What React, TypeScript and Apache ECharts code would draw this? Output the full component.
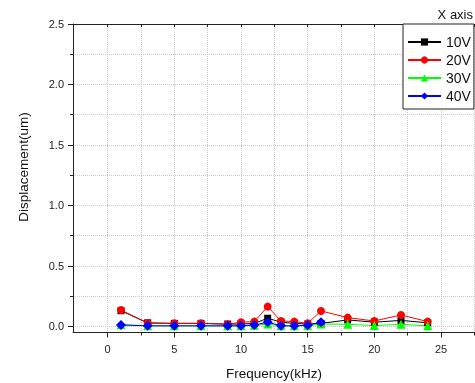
import React, { useEffect, useRef } from "react";
import * as echarts from "echarts";

const freq10 = [1, 3, 5, 7, 9, 10, 11, 12, 13, 14, 15, 16, 18, 20, 22, 24];
const v10 = [0.13, 0.03, 0.025, 0.025, 0.02, 0.02, 0.025, 0.068, 0.035, 0.025, 0.02, 0.025, 0.054, 0.035, 0.05, 0.03];
const freq20 = [1, 3, 5, 7, 9, 10, 11, 12, 13, 14, 15, 16, 18, 20, 22, 24];
const v20 = [0.136, 0.026, 0.026, 0.026, 0.018, 0.035, 0.04, 0.164, 0.045, 0.04, 0.026, 0.128, 0.073, 0.045, 0.095, 0.04];
const freq30 = [1, 3, 5, 7, 9, 10, 11, 12, 13, 14, 15, 16, 18, 20, 22, 24];
const v30 = [0.015, 0.005, 0.005, 0.005, 0.005, 0.005, 0.01, 0.02, 0.005, 0.005, 0.005, 0.02, 0.018, 0.007, 0.018, 0.005];
const freq40 = [1, 3, 5, 7, 9, 10, 11, 12, 13, 14, 15, 16];
const v40 = [0.012, 0.005, 0.005, 0.005, 0.005, 0.005, 0.012, 0.035, 0.005, 0.005, 0.01, 0.035];

const xMajor = [0, 5, 10, 15, 20, 25];
const xAll = [0, 2.5, 5, 7.5, 10, 12.5, 15, 17.5, 20, 22.5, 25, 27.5];
const yMajor = [0, 0.5, 1, 1.5, 2, 2.5];
const yAll = [0, 0.25, 0.5, 0.75, 1, 1.25, 1.5, 1.75, 2, 2.25, 2.5];

const FONT = "Liberation Sans";
const AXIS_COLOR = "#222";

export default function App() {
  const ref = useRef<HTMLDivElement>(null);
  useEffect(() => {
    if (!ref.current) return;
    const chart = echarts.init(ref.current, null, { renderer: "svg" });
    const pair = (xs: number[], ys: number[]) => xs.map((x, i) => [x, ys[i]]);
    const xBase = { min: -2.6, max: 27.55, type: "value" as const, gridIndex: 0 };
    const yBase = { min: -0.05, max: 2.5, type: "value" as const, gridIndex: 0 };
    chart.setOption({
      animation: false,
      textStyle: { fontFamily: FONT },
      grid: { left: 73, top: 24, right: 0, bottom: 50.5, containLabel: false },
      xAxis: [
        {
          ...xBase,
          position: "bottom",
          axisLine: { show: true, onZero: false, lineStyle: { color: AXIS_COLOR, width: 1 } },
          axisTick: { show: true, customValues: xAll, length: 3, lineStyle: { color: AXIS_COLOR } },
          axisLabel: { show: true, customValues: xMajor, margin: 11, fontSize: 11, color: "#222", fontFamily: FONT },
          splitLine: { show: true, lineStyle: { color: "#c8c8c8", type: "dotted", width: 1 } },
        },
        {
          ...xBase,
          position: "bottom",
          axisLine: { show: false, onZero: false },
          axisTick: { show: true, customValues: xMajor, length: 5, lineStyle: { color: AXIS_COLOR } },
          axisLabel: { show: false },
          splitLine: { show: false },
        },
        {
          ...xBase,
          position: "top",
          axisLine: { show: true, onZero: false, lineStyle: { color: AXIS_COLOR, width: 1 } },
          axisTick: { show: true, inside: true, customValues: xAll, length: 3, lineStyle: { color: AXIS_COLOR } },
          axisLabel: { show: false },
          splitLine: { show: false },
        },
      ],
      yAxis: [
        {
          ...yBase,
          position: "left",
          axisLine: { show: true, onZero: false, lineStyle: { color: AXIS_COLOR, width: 1 } },
          axisTick: { show: true, customValues: yAll, length: 3, lineStyle: { color: AXIS_COLOR } },
          axisLabel: {
            show: true,
            customValues: yMajor,
            margin: 9,
            fontSize: 11,
            color: "#222",
            fontFamily: FONT,
            formatter: (v: number) => v.toFixed(1),
          },
          splitLine: { show: true, lineStyle: { color: "#c8c8c8", type: "dotted", width: 1 } },
        },
        {
          ...yBase,
          position: "left",
          axisLine: { show: false, onZero: false },
          axisTick: { show: true, customValues: yMajor, length: 5, lineStyle: { color: AXIS_COLOR } },
          axisLabel: { show: false },
          splitLine: { show: false },
        },
      ],
      legend: {
        orient: "vertical",
        left: 403,
        top: 24,
        padding: [11, 3, 6, 4],
        itemWidth: 33,
        itemHeight: 9,
        itemGap: 4,
        borderColor: "#222",
        borderWidth: 1,
        backgroundColor: "#fff",
        textStyle: { fontSize: 14, color: "#111", fontFamily: FONT },
        data: ["10V", "20V", "30V", "40V"],
      },
      graphic: [
        {
          type: "text",
          x: 473,
          y: 14,
          style: { text: "X axis", fontSize: 13, fontFamily: FONT, fill: "#111", align: "right", verticalAlign: "middle" },
        },
        {
          type: "text",
          x: 274,
          y: 373,
          style: { text: "Frequency(kHz)", fontSize: 13.5, fontFamily: FONT, fill: "#111", align: "center", verticalAlign: "middle" },
        },
        {
          type: "text",
          x: 23,
          y: 167,
          rotation: Math.PI / 2,
          style: { text: "Displacement(um)", fontSize: 13.5, fontFamily: FONT, fill: "#111", align: "center", verticalAlign: "middle" },
        },
      ],
      series: [
        {
          name: "10V",
          type: "line",
          data: pair(freq10, v10),
          symbol: "rect",
          symbolSize: 7,
          itemStyle: { color: "#000" },
          lineStyle: { color: "#000", width: 1 },
        },
        {
          name: "20V",
          type: "line",
          data: pair(freq20, v20),
          symbol: "circle",
          symbolSize: 8,
          itemStyle: { color: "#ff0000" },
          lineStyle: { color: "#ff0000", width: 1 },
        },
        {
          name: "30V",
          type: "line",
          data: pair(freq30, v30),
          symbol: "triangle",
          symbolSize: 9,
          itemStyle: { color: "#00ff00" },
          lineStyle: { color: "#00ff00", width: 1 },
        },
        {
          name: "40V",
          type: "line",
          data: pair(freq40, v40),
          symbol: "diamond",
          symbolSize: 10,
          itemStyle: { color: "#0000ff" },
          lineStyle: { color: "#0000ff", width: 1 },
        },
      ],
    });
    return () => chart.dispose();
  }, []);
  return <div ref={ref} style={{ position: "fixed", left: 0, top: 0, width: 475, height: 383 }} />;
}
